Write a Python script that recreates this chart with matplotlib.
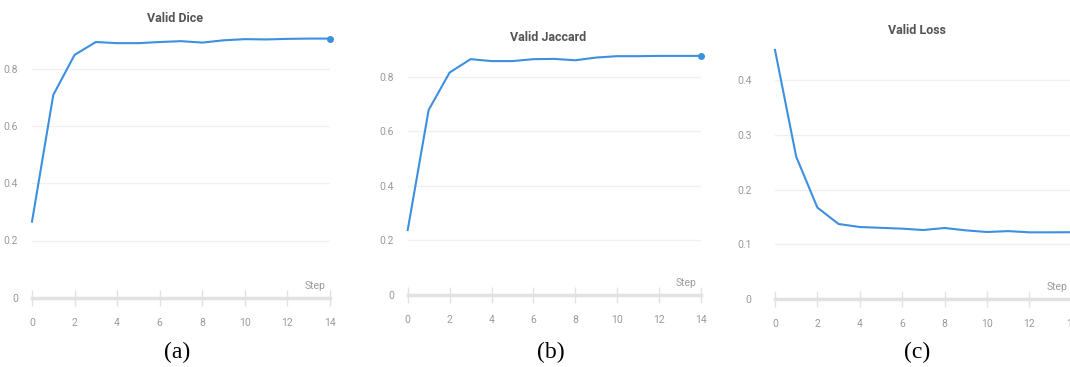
import matplotlib
matplotlib.use("Agg")
import matplotlib.pyplot as plt
from matplotlib import font_manager

# values
steps = list(range(15))
valid_dice = [0.266, 0.709, 0.849, 0.894, 0.890, 0.890, 0.894, 0.897, 0.892,
              0.900, 0.904, 0.903, 0.905, 0.906, 0.906]
valid_jaccard = [0.238, 0.678, 0.815, 0.864, 0.857, 0.857, 0.864, 0.865, 0.860,
                 0.870, 0.875, 0.875, 0.876, 0.876, 0.876]
valid_loss = [0.455, 0.260, 0.167, 0.137, 0.1315, 0.130, 0.1285, 0.126, 0.1297,
              0.1254, 0.1224, 0.124, 0.1218, 0.1218, 0.122]

titles = ["Valid Dice", "Valid Jaccard", "Valid Loss"]
captions = ["(a)", "(b)", "(c)"]
yticks_list = [[0, 0.2, 0.4, 0.6, 0.8], [0, 0.2, 0.4, 0.6, 0.8], [0, 0.1, 0.2, 0.3, 0.4]]
xticks = [0, 2, 4, 6, 8, 10, 12, 14]

# narrow font if there is one, else Roboto
names = {f.name for f in font_manager.fontManager.ttflist}
narrow = "Liberation Sans Narrow" if "Liberation Sans Narrow" in names else "Roboto"

W, H = 1070, 367
fig = plt.figure(figsize=(W / 100, H / 100), dpi=100)

# axes boxes in pixels: left, y-zero pixel, width, height, ymax
boxes = [(32, 297.7, 298, 271.7, 0.95),
         (407.7, 295, 293.3, 259.3, 0.95),
         (775, 299, 296.7, 257.3, 0.47)]
title_pos = [(175, 18), (548, 37.7), (917, 31)]
caption_x = [177, 551, 917]
ypads = [10, 10, 17]
blue = "#3d8fe0"
tick_col = "#9a9a9a"
fs_tick = 8.5 if narrow != "Roboto" else 7.5
fs_title = 11 if narrow != "Roboto" else 9

for i, vals in enumerate([valid_dice, valid_jaccard, valid_loss]):
    left, y0, w, h, ymax = boxes[i]
    ax = fig.add_axes([left / W, (H - y0) / H, w / W, h / H])
    ax.plot(steps, vals, color=blue, lw=1.5, clip_on=False, zorder=3)
    if i < 2:
        ax.plot(steps[-1], vals[-1], "o", color=blue, ms=4, clip_on=False, zorder=4)
    ax.set_xlim(0, 14)
    ax.set_ylim(0, ymax)
    for s in ["top", "right", "left"]:
        ax.spines[s].set_visible(False)
    ax.spines["bottom"].set_color("#e2e2e2")
    ax.spines["bottom"].set_linewidth(2.5)
    ax.set_xticks(xticks)
    ax.set_yticks(yticks_list[i])
    ax.set_yticklabels([str(t) for t in yticks_list[i]])
    ax.tick_params(axis="x", direction="inout", length=11, width=1, color="#e2e2e2",
                   labelsize=fs_tick, labelcolor=tick_col, pad=9)
    ax.tick_params(axis="y", length=0, labelsize=fs_tick, labelcolor=tick_col, pad=ypads[i])
    for t in yticks_list[i][1:]:
        ax.axhline(t, color="#f0f0f0", lw=1, zorder=0)
    ax.annotate("Step", xy=(1, 0), xycoords="axes fraction", xytext=(-3, 5),
                textcoords="offset points", ha="right", va="bottom",
                fontsize=fs_tick, color=tick_col, family=narrow)
    for lab in ax.get_xticklabels() + ax.get_yticklabels():
        lab.set_family(narrow)
    tx, ty = title_pos[i]
    fig.text(tx / W, 1 - ty / H, titles[i], ha="center", va="center",
             fontsize=fs_title, fontweight="bold", color="#555555", family=narrow)
    fig.text(caption_x[i] / W, 1 - 352 / H, captions[i], ha="center", va="center",
             fontsize=17, family="Liberation Serif", color="black")

fig.savefig("out.png", dpi=100)
